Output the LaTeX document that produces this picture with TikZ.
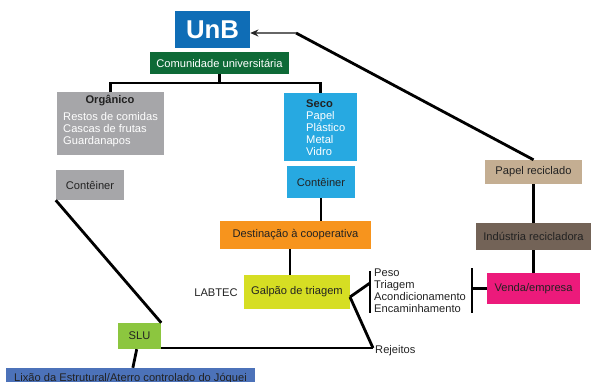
\documentclass[tikz,border=0pt]{standalone}
\usepackage{fontspec}
\setmainfont{Liberation Sans}
\usetikzlibrary{arrows.meta}

\definecolor{unbblue}{HTML}{0F6DB6}
\definecolor{unbgreen}{HTML}{0E6A37}
\definecolor{orggray}{HTML}{A6A6A9}
\definecolor{secoblue}{HTML}{27A9E1}
\definecolor{coopor}{HTML}{F7941D}
\definecolor{galpyel}{HTML}{D6DE23}
\definecolor{slugreen}{HTML}{8CC63F}
\definecolor{lixblue}{HTML}{4C72B9}
\definecolor{vendpink}{HTML}{EC1A7B}
\definecolor{indbrown}{HTML}{736357}
\definecolor{papeltan}{HTML}{C4AE92}
\definecolor{textdark}{HTML}{222222}

\tikzset{
	box/.style = {rectangle, inner sep=0pt, text=textdark},
	boxsize/.style 2 args = {minimum width=#1*0.03cm, minimum height=#2*0.03cm},
	list/.style = {align=left, inner sep=0pt, text=textdark},
	link/.style = {line width=2.4pt, black},
	arrowline/.style = {line width=1.1pt, color=black!60, -{Stealth[length=7pt, width=6pt, black!85]}},
}

\begin{document}
\begin{tikzpicture}[x=0.03cm, y=-0.03cm, font=\fontsize{9.5}{10.2}\selectfont]
	\useasboundingbox (0,0) rectangle (591,381);

	% top
	\node[box, fill=unbblue, boxsize={75}{37}, text=white, font=\bfseries\fontsize{22}{22}\selectfont] (unb) at (212.5,29.5) {UnB};
	\node[box, fill=unbgreen, boxsize={139}{22}, text=white] (comunidade) at (219.5,63) {Comunidade universitária};
	\coordinate (split) at (219.5,83);

	% organic branch
	\node[box, fill=orggray, boxsize={107}{63}] (organico) at (110.5,123.5) {};
	\node[box] (organicotitle) at (110,101) {\textbf{Orgânico}};
	\node[list, text=white, anchor=base west] (organicoitems) at (63,144) {Restos de comidas\\Cascas de frutas\\Guardanapos};
	\node[box, fill=orggray, boxsize={68}{30}] (conteinerorg) at (90,185) {Contêiner};
	\node[box, fill=slugreen, boxsize={43}{26}] (slu) at (139.5,336) {SLU};
	\node[box, fill=lixblue, boxsize={249}{22}] (lixao) at (130.5,379) {Lixão da Estrutural/Aterro controlado do Jóquei};

	% dry branch
	\node[box, fill=secoblue, boxsize={73}{68}] (seco) at (320.5,127) {};
	\node[list, text=white, anchor=base west] (secoitems) at (306,155) {\textcolor{textdark}{\textbf{Seco}}\\Papel\\Plástico\\Metal\\Vidro};
	\node[box, fill=secoblue, boxsize={68}{32}] (conteinerseco) at (321,182) {Contêiner};
	\node[box, fill=coopor, boxsize={151}{28}] (destinacao) at (295.5,235) {Destinação à cooperativa};
	\node[box, fill=galpyel, boxsize={106}{34}] (galpao) at (297,292) {Galpão de triagem};
	\node[box] (labtec) at (216,293) {LABTEC};
	\node[list, anchor=base west, font=\fontsize{9.5}{10}\selectfont] (etapas) at (374,312) {Peso\\Triagem\\Acondicionamento\\Encaminhamento};
	\node[list, anchor=west] (rejeitos) at (375,351) {Rejeitos};

	% recycling branch
	\node[box, fill=papeltan, boxsize={97}{24}] (papel) at (533.5,172) {Papel reciclado};
	\node[box, fill=indbrown, boxsize={115}{27}] (industria) at (533.5,236.5) {Indústria recicladora};
	\node[box, fill=vendpink, boxsize={93}{31}] (venda) at (533.5,288.5) {Venda/empresa};

	% connectors
	\draw[link] (comunidade) -- (split);
	\draw[link] (organico) |- (split) -| (seco);
	\draw[link] (conteinerorg.south west) -- (slu.north east);
	\draw[link] (slu) -- (lixao);
	\draw[link] (conteinerseco.south) -- (conteinerseco.south |- destinacao.north);
	\draw[link] (destinacao.south -| 290,0) -- (galpao.north -| 290,0);

	\coordinate (fork) at (350,297);
	\coordinate (tick) at (370,283);
	\coordinate (rej) at (373,348);
	\draw[link] (fork) -- (tick);
	\draw[link] (fork) -- (rej);
	\draw[link] (slu.east |- rej) -- (rej);
	\draw[link] (370,271) -- (370,313);

	\draw[link] (472,268) -- (472,313);
	\draw[link] (venda.west -| 472,0) -- (venda.west);
	\draw[link] (industria) -- (venda);
	\draw[link] (papel) -- (industria);

	% back to UnB
	\coordinate (bend) at (296,33);
	\draw[link] (papel.north) -- (bend);
	\draw[arrowline] (bend) -- (bend -| unb.east);
\end{tikzpicture}
\end{document}
